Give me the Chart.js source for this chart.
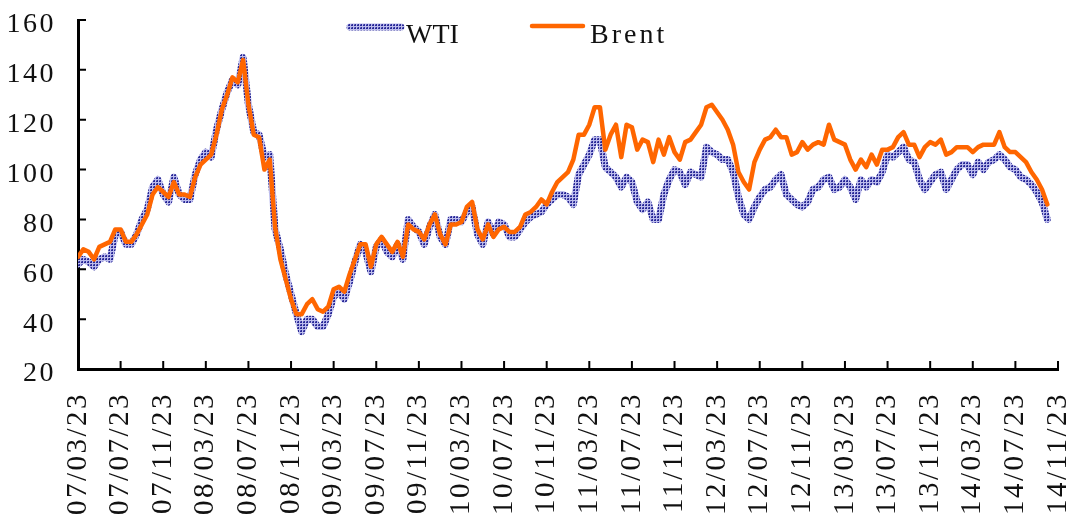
<!DOCTYPE html>
<html>
<head>
<meta charset="utf-8">
<script src="https://cdn.jsdelivr.net/npm/chart.js@4.4.1/dist/chart.umd.min.js"></script>
<style>
  html, body { margin: 0; padding: 0; background: #fff; }
  canvas { display: block; }
</style>
</head>
<body>
<canvas id="oil" width="1071" height="517"></canvas>
<script>
// x axis: one point every half month from 07/03/23, tick label every 8 points
const tickLabels = [
  '07/03/23', '07/07/23', '07/11/23', '08/03/23', '08/07/23', '08/11/23',
  '09/03/23', '09/07/23', '09/11/23', '10/03/23', '10/07/23', '10/11/23',
  '11/03/23', '11/07/23', '11/11/23', '12/03/23', '12/07/23', '12/11/23',
  '13/03/23', '13/07/23', '13/11/23', '14/03/23', '14/07/23', '14/11/23'
];
const yTicks = [20, 40, 60, 80, 100, 120, 140, 160];

const brent = [
  65, 68, 67, 64, 69, 70, 71, 76, 76, 71,
  71, 74, 78, 82, 90, 93, 91, 89, 95, 90,
  90, 89, 97, 102, 104, 106, 114, 124, 130, 137,
  135, 144, 126, 114, 113, 100, 104, 77, 64, 56,
  48, 42, 42, 46, 48, 44, 43, 45, 52, 53,
  51, 58, 64, 70, 70, 61, 70, 73, 70, 67,
  71, 65, 78, 76, 75, 72, 78, 82, 74, 70,
  78, 78, 79, 85, 87, 76, 72, 78, 73, 76,
  77, 75, 75, 77, 82, 83, 85, 88, 86, 91,
  95, 97, 99, 104, 114, 114, 118, 125, 125, 108,
  114, 118, 105, 118, 117, 108, 112, 111, 103, 112,
  106, 113, 107, 104, 111, 112, 115, 118, 125, 126,
  123, 120, 116, 110, 99, 95, 92, 103, 108, 112,
  113, 116, 113, 113, 106, 107, 111, 108, 110, 111,
  110, 118, 112, 111, 110, 104, 100, 104, 101, 106,
  102, 108, 108, 109, 113, 115, 110, 110, 105, 109,
  111, 110, 112, 106, 107, 109, 109, 109, 107, 109,
  110, 110, 110, 115, 109, 107, 107, 105, 103, 99,
  96, 92, 86
];

const wti = [
  62, 64, 63, 61, 64, 65, 64, 74, 75, 70,
  70, 74, 80, 84, 93, 96, 90, 87, 97, 90,
  88, 88, 98, 104, 107, 105, 116, 124, 131, 136,
  134, 145, 126, 115, 114, 105, 106, 76, 68, 58,
  50, 42, 35, 40, 40, 37, 37, 42, 49, 51,
  48, 55, 63, 70, 67, 59, 69, 72, 67, 65,
  70, 64, 80, 77, 75, 70, 77, 82, 73, 70,
  80, 80, 79, 83, 85, 74, 70, 79, 74, 79,
  78, 73, 73, 76, 79, 81, 82, 83, 86, 88,
  90, 90, 89, 86, 98, 102, 106, 112, 112, 101,
  99, 97, 93, 97, 95, 87, 84, 87, 80, 80,
  90, 96, 100, 99, 94, 99, 98, 97, 109, 107,
  106, 104, 104, 99, 89, 82, 80, 85, 89, 92,
  93, 96, 98, 90, 88, 86, 85, 87, 92, 93,
  96, 97, 92, 93, 96, 93, 88, 96, 93, 96,
  95, 99, 106, 105, 107, 109, 104, 103, 96, 92,
  95, 98, 99, 92, 96, 100, 102, 102, 98, 103,
  100, 103, 104, 106, 104, 101, 100, 97, 96, 94,
  91, 87, 80
];

const FONT = "'Liberation Serif', 'Times New Roman', serif";
const ORANGE = '#ff6600';

// dotted blue fill used for the WTI line
function makeDots() {
  const c = document.createElement('canvas');
  c.width = 3;
  c.height = 3;
  const g = c.getContext('2d');
  g.fillStyle = '#bcbcec';
  g.fillRect(0, 0, 3, 3);
  g.fillStyle = '#2a2a96';
  g.fillRect(0, 0, 2, 2);
  g.fillStyle = '#6a6ac4';
  g.fillRect(0, 0, 1, 1);
  return g.createPattern(c, 'repeat');
}
const dots = makeDots();

// the original font is wider than Liberation Serif, spread the tick labels a bit
const spacing = {
  id: 'spacing',
  beforeDraw(chart) {
    chart.ctx.letterSpacing = '2.5px';
  }
};

// ticks point inward, so draw them ourselves from the scales
const innerTicks = {
  id: 'innerTicks',
  beforeDatasetsDraw(chart) {
    const { ctx, chartArea, scales } = chart;
    ctx.save();
    ctx.strokeStyle = '#000';
    ctx.lineWidth = 2;
    ctx.beginPath();
    yTicks.forEach(v => {
      const py = scales.y.getPixelForValue(v);
      ctx.moveTo(chartArea.left, py);
      ctx.lineTo(chartArea.left + 8, py);
    });
    tickLabels.forEach((_, k) => {
      const px = scales.x.getPixelForValue(k * 8);
      ctx.moveTo(px, chartArea.bottom);
      ctx.lineTo(px, chartArea.bottom - 8);
    });
    ctx.stroke();
    ctx.restore();
  }
};

// legend sits inside the plot, near the top
const topLegend = {
  id: 'topLegend',
  afterDraw(chart) {
    const ctx = chart.ctx;
    ctx.save();
    ctx.lineCap = 'round';
    ctx.font = `28px ${FONT}`;
    ctx.fillStyle = '#111';
    ctx.textBaseline = 'alphabetic';

    ctx.strokeStyle = dots;
    ctx.lineWidth = 7;
    ctx.beginPath();
    ctx.moveTo(350, 27);
    ctx.lineTo(401, 27);
    ctx.stroke();
    ctx.letterSpacing = '0px';
    ctx.fillText('WTI', 406, 43);

    ctx.strokeStyle = ORANGE;
    ctx.lineWidth = 4.5;
    ctx.beginPath();
    ctx.moveTo(532, 26);
    ctx.lineTo(583, 26);
    ctx.stroke();
    ctx.letterSpacing = '3px';
    ctx.fillText('Brent', 590, 43);
    ctx.restore();
  }
};

new Chart(document.getElementById('oil'), {
  type: 'line',
  data: {
    datasets: [
      {
        label: 'Brent',
        data: brent.map((v, i) => ({ x: i, y: v })),
        borderColor: ORANGE,
        borderWidth: 4.5,
        pointRadius: 0,
        tension: 0,
        borderJoinStyle: 'round',
        borderCapStyle: 'round',
        order: 0
      },
      {
        label: 'WTI',
        data: wti.map((v, i) => ({ x: i, y: v })),
        borderColor: dots,
        borderWidth: 7,
        pointRadius: 0,
        tension: 0,
        borderJoinStyle: 'round',
        borderCapStyle: 'round',
        order: 1
      }
    ]
  },
  options: {
    responsive: false,
    devicePixelRatio: 1,
    animation: false,
    layout: { padding: { top: 20, right: 13, left: 0, bottom: 0 } },
    scales: {
      x: {
        type: 'linear',
        min: 0,
        max: 184,
        grid: { display: false, drawTicks: false },
        border: { display: true, color: '#000', width: 3 },
        afterFit(scale) {
          scale.height = 148;
          scale.paddingLeft = 0;
          scale.paddingRight = 0;
        },
        ticks: {
          stepSize: 8,
          autoSkip: false,
          minRotation: 90,
          maxRotation: 90,
          padding: 23,
          color: '#111',
          font: { family: FONT, size: 29 },
          callback: v => tickLabels[Math.round(v / 8)] || ''
        }
      },
      y: {
        min: 20,
        max: 160,
        grid: { display: false, drawTicks: false },
        border: { display: true, color: '#000', width: 3 },
        afterFit(scale) {
          scale.width = 78;
          scale.paddingTop = 0;
          scale.paddingBottom = 0;
        },
        ticks: {
          stepSize: 20,
          padding: 22,
          labelOffset: 5,
          color: '#111',
          font: { family: FONT, size: 28 }
        }
      }
    },
    plugins: {
      legend: { display: false },
      tooltip: { enabled: false }
    }
  },
  plugins: [spacing, innerTicks, topLegend]
});
</script>
</body>
</html>
